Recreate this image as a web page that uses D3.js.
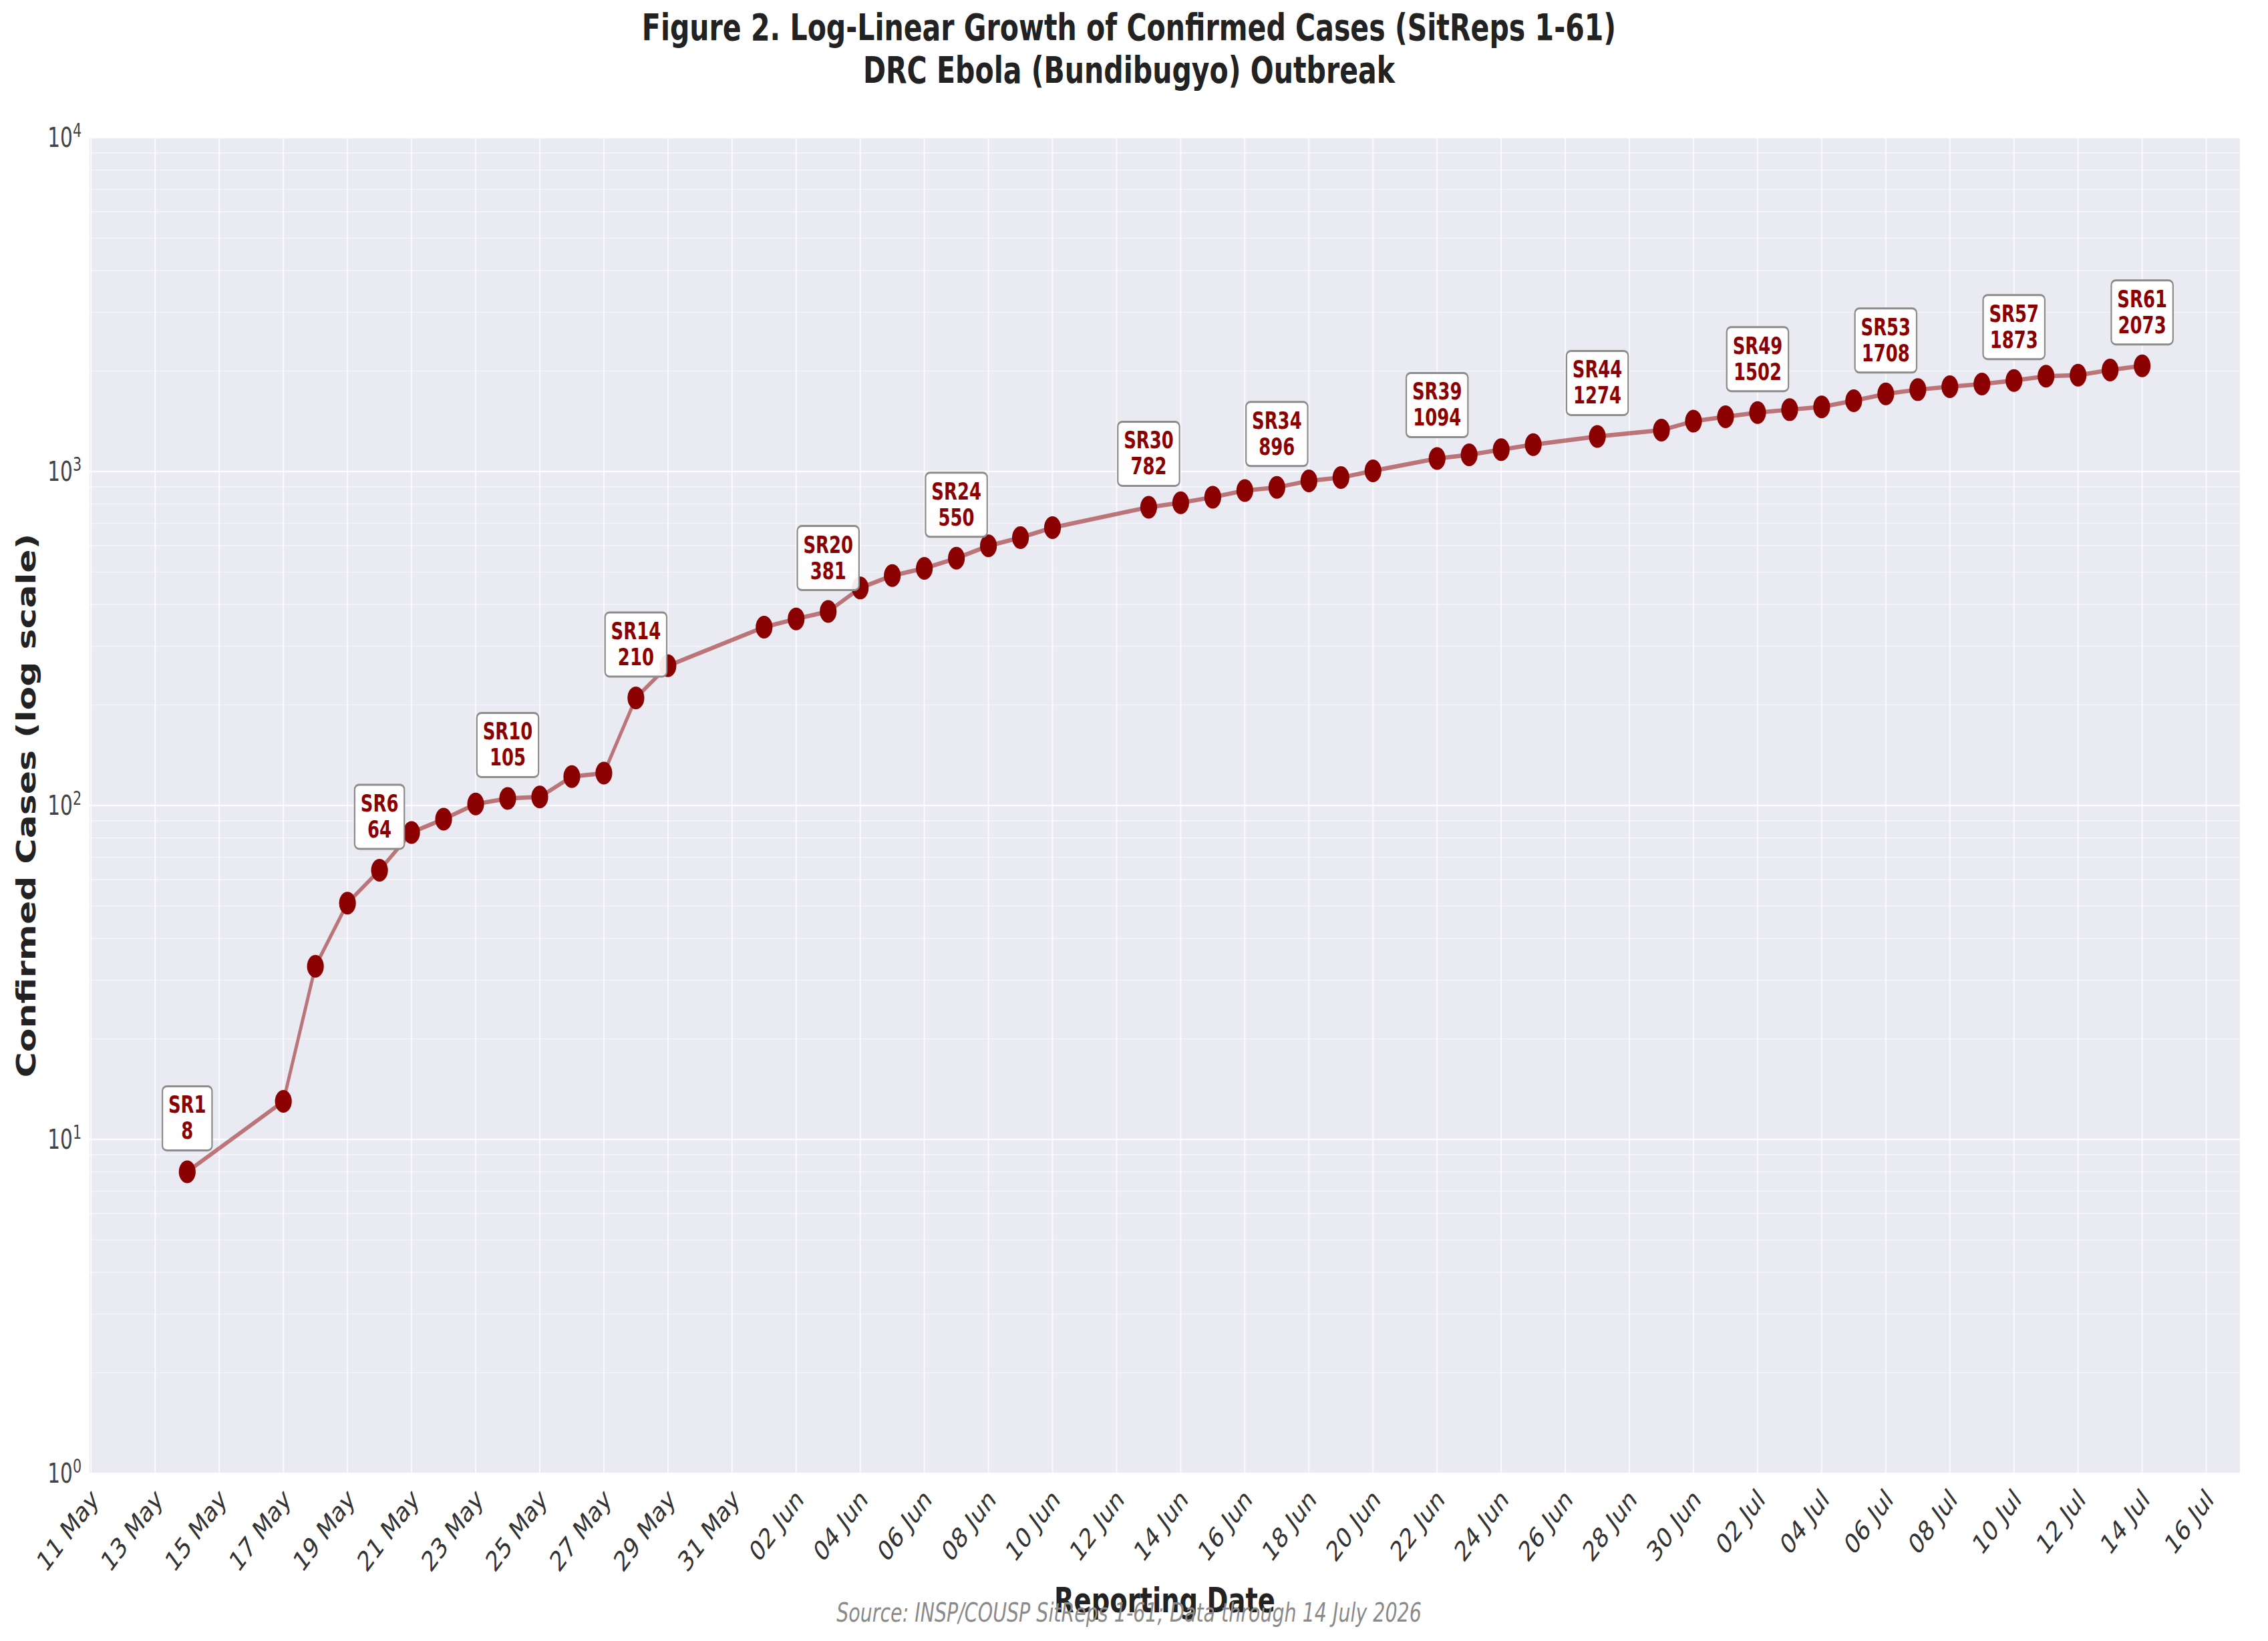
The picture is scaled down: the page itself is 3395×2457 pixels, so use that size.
<!DOCTYPE html>
<html>
<head>
<meta charset="utf-8">
<script src="https://cdn.jsdelivr.net/npm/d3@7"></script>
<style>
  html, body { margin: 0; padding: 0; background: #fff; }
  svg { display: block; font-family: "DejaVu Sans", sans-serif; }
</style>
</head>
<body>
<svg id="chart"></svg>
<script>
// confirmed cases per reporting date (SitReps 1-61)
const reportDates = [
  "2026-05-14", "2026-05-17", "2026-05-18", "2026-05-19", "2026-05-20",
  "2026-05-21", "2026-05-22", "2026-05-23", "2026-05-24", "2026-05-25",
  "2026-05-26", "2026-05-27", "2026-05-28", "2026-05-29", "2026-06-01",
  "2026-06-02", "2026-06-03", "2026-06-04", "2026-06-05", "2026-06-06",
  "2026-06-07", "2026-06-08", "2026-06-09", "2026-06-10", "2026-06-13",
  "2026-06-14", "2026-06-15", "2026-06-16", "2026-06-17", "2026-06-18",
  "2026-06-19", "2026-06-20", "2026-06-22", "2026-06-23", "2026-06-24",
  "2026-06-25", "2026-06-27", "2026-06-29", "2026-06-30", "2026-07-01",
  "2026-07-02", "2026-07-03", "2026-07-04", "2026-07-05", "2026-07-06",
  "2026-07-07", "2026-07-08", "2026-07-09", "2026-07-10", "2026-07-11",
  "2026-07-12", "2026-07-13", "2026-07-14",
];
const confirmedCases = [
  8, 13, 33, 51, 64,
  83, 91, 101, 105, 106,
  122, 125, 210, 262, 342,
  362, 381, 448, 488, 513,
  550, 599, 634, 679, 782,
  806, 838, 877, 896, 938,
  959, 1005, 1094, 1122, 1163,
  1204, 1274, 1330, 1415, 1459,
  1502, 1532, 1561, 1629, 1708,
  1759, 1795, 1828, 1873, 1929,
  1943, 2014, 2073,
];

// annotated reports
const labelNames = ["SR1", "SR6", "SR10", "SR14", "SR20", "SR24", "SR30",
  "SR34", "SR39", "SR44", "SR49", "SR53", "SR57", "SR61"];
const labelDates = ["2026-05-14", "2026-05-20", "2026-05-24", "2026-05-28",
  "2026-06-03", "2026-06-07", "2026-06-13", "2026-06-17", "2026-06-22",
  "2026-06-27", "2026-07-02", "2026-07-06", "2026-07-10", "2026-07-14"];

// axis ticks
const xTickStart = "2026-05-11";
const xTickEnd = "2026-07-17";
const yTickExponents = [0, 1, 2, 3, 4];

const titleLines = [
  "Figure 2. Log-Linear Growth of Confirmed Cases (SitReps 1-61)",
  "DRC Ebola (Bundibugyo) Outbreak",
];
const xLabel = "Reporting Date";
const yLabel = "Confirmed Cases (log scale)";
const sourceNote = "Source: INSP/COUSP SitReps 1-61; Data through 14 July 2026";

// the picture is squeezed horizontally, so draw in a wider box and stretch it
const squeeze = 0.74;
const outW = 3395;
const outH = 2457;
const width = outW / squeeze;
const height = outH;
const margin = { top: 206, right: width - 4531, bottom: height - 2206, left: 181 };
const figCenter = 1690 / squeeze;

const parse = d3.timeParse("%Y-%m-%d");
const data = reportDates.map((d, i) => ({ date: parse(d), value: confirmedCases[i] }));
const labels = labelNames.map((name, i) => {
  const p = data.find((d) => +d.date === +parse(labelDates[i]));
  return { name, date: p.date, value: p.value };
});

const svg = d3
  .select("#chart")
  .attr("width", outW)
  .attr("height", outH)
  .attr("viewBox", `0 0 ${width} ${height}`)
  .attr("preserveAspectRatio", "none");

// scales (matplotlib-like 5% x padding)
const pad = 3.05 * 864e5;
const x = d3
  .scaleTime()
  .domain([new Date(+data[0].date - pad), new Date(+data[data.length - 1].date + pad)])
  .range([margin.left, width - margin.right]);

const y = d3
  .scaleLog()
  .domain([1, 10000])
  .range([height - margin.bottom, margin.top]);

// plot background
svg
  .append("rect")
  .attr("x", margin.left)
  .attr("y", margin.top)
  .attr("width", width - margin.left - margin.right)
  .attr("height", height - margin.top - margin.bottom)
  .attr("fill", "#eaeaf2");

// minor horizontal grid
const minorTicks = [];
for (let e = 0; e < 4; e++) {
  for (let m = 2; m <= 9; m++) minorTicks.push(m * Math.pow(10, e));
}
svg
  .selectAll(".minor-grid")
  .data(minorTicks)
  .enter()
  .append("line")
  .attr("x1", margin.left)
  .attr("x2", width - margin.right)
  .attr("y1", (d) => y(d))
  .attr("y2", (d) => y(d))
  .attr("stroke", "#fff")
  .attr("stroke-opacity", 0.5)
  .attr("stroke-width", 1.6);

// major horizontal grid
svg
  .selectAll(".major-grid")
  .data(yTickExponents)
  .enter()
  .append("line")
  .attr("x1", margin.left)
  .attr("x2", width - margin.right)
  .attr("y1", (d) => y(Math.pow(10, d)))
  .attr("y2", (d) => y(Math.pow(10, d)))
  .attr("stroke", "#fff")
  .attr("stroke-opacity", 0.8)
  .attr("stroke-width", 2.6);

// date ticks every 2 days
const xTicks = d3
  .timeDay.range(parse(xTickStart), parse(xTickEnd))
  .filter((d, i) => i % 2 === 0);

svg
  .selectAll(".x-grid")
  .data(xTicks)
  .enter()
  .append("line")
  .attr("x1", (d) => x(d))
  .attr("x2", (d) => x(d))
  .attr("y1", margin.top)
  .attr("y2", height - margin.bottom)
  .attr("stroke", "#fff")
  .attr("stroke-opacity", 0.8)
  .attr("stroke-width", 2.6);

const fmt = d3.timeFormat("%d %b");
svg
  .selectAll(".x-tick")
  .data(xTicks)
  .enter()
  .append("text")
  .attr("transform", (d) => `translate(${x(d) - 4}, ${height - margin.bottom + 20}) rotate(-45)`)
  .attr("text-anchor", "end")
  .attr("dy", "0.72em")
  .attr("font-size", 42)
  .attr("fill", "#333")
  .text((d) => fmt(d));

// y tick labels 10^n
const yTick = svg
  .selectAll(".y-tick")
  .data(yTickExponents)
  .enter()
  .append("text")
  .attr("x", margin.left - 16)
  .attr("y", (d) => y(Math.pow(10, d)))
  .attr("dy", "0.36em")
  .attr("text-anchor", "end")
  .attr("font-size", 40)
  .attr("fill", "#444");
yTick.append("tspan").text("10");
yTick
  .append("tspan")
  .attr("dy", "-0.55em")
  .attr("font-size", 28)
  .text((d) => d);

// line
const line = d3
  .line()
  .x((d) => x(d.date))
  .y((d) => y(d.value));

svg
  .append("path")
  .datum(data)
  .attr("fill", "none")
  .attr("stroke", "#8b0000")
  .attr("stroke-opacity", 0.5)
  .attr("stroke-width", 6.5)
  .attr("d", line);

// dots
svg
  .selectAll(".dot")
  .data(data)
  .enter()
  .append("circle")
  .attr("cx", (d) => x(d.date))
  .attr("cy", (d) => y(d.value))
  .attr("r", 17)
  .attr("fill", "#8b0000");

// annotation boxes
const note = svg
  .selectAll(".note")
  .data(labels)
  .enter()
  .append("g")
  .attr("transform", (d) => `translate(${x(d.date)}, ${y(d.value) - 32 - 96})`);

const noteBox = note
  .append("rect")
  .attr("y", 0)
  .attr("height", 96)
  .attr("rx", 9)
  .attr("ry", 7)
  .attr("fill", "#fff")
  .attr("fill-opacity", 0.92)
  .attr("stroke", "#8c8c8c")
  .attr("stroke-width", 3);

const noteText = note
  .append("text")
  .attr("text-anchor", "middle")
  .attr("font-size", 35)
  .attr("font-weight", "bold")
  .attr("fill", "#8b0000");
noteText.append("tspan").attr("x", 0).attr("y", 40).text((d) => d.name);
noteText.append("tspan").attr("x", 0).attr("y", 79).text((d) => d.value);

noteBox.each(function () {
  const t = d3.select(this.parentNode).select("text").node().getBBox();
  d3.select(this)
    .attr("x", -t.width / 2 - 12)
    .attr("width", t.width + 24);
});

// title
svg
  .selectAll(".title")
  .data(titleLines)
  .enter()
  .append("text")
  .attr("x", figCenter)
  .attr("y", (d, i) => 60 + i * 64)
  .attr("text-anchor", "middle")
  .attr("font-size", 55.5)
  .attr("font-weight", "bold")
  .attr("fill", "#222")
  .text((d) => d);

// axis labels
svg
  .append("text")
  .attr("x", (margin.left + width - margin.right) / 2)
  .attr("y", 2414)
  .attr("text-anchor", "middle")
  .attr("font-size", 52)
  .attr("font-weight", "bold")
  .attr("fill", "#222")
  .text(xLabel);

svg
  .append("text")
  .attr("transform", `translate(72, ${(margin.top + height - margin.bottom) / 2}) rotate(-90)`)
  .attr("text-anchor", "middle")
  .attr("font-size", 52)
  .attr("font-weight", "bold")
  .attr("fill", "#222")
  .text(yLabel);

// source
svg
  .append("text")
  .attr("x", figCenter)
  .attr("y", 2428)
  .attr("text-anchor", "middle")
  .attr("font-size", 38.5)
  .attr("font-style", "italic")
  .attr("fill", "#8a8a8a")
  .text(sourceNote);
</script>
</body>
</html>
